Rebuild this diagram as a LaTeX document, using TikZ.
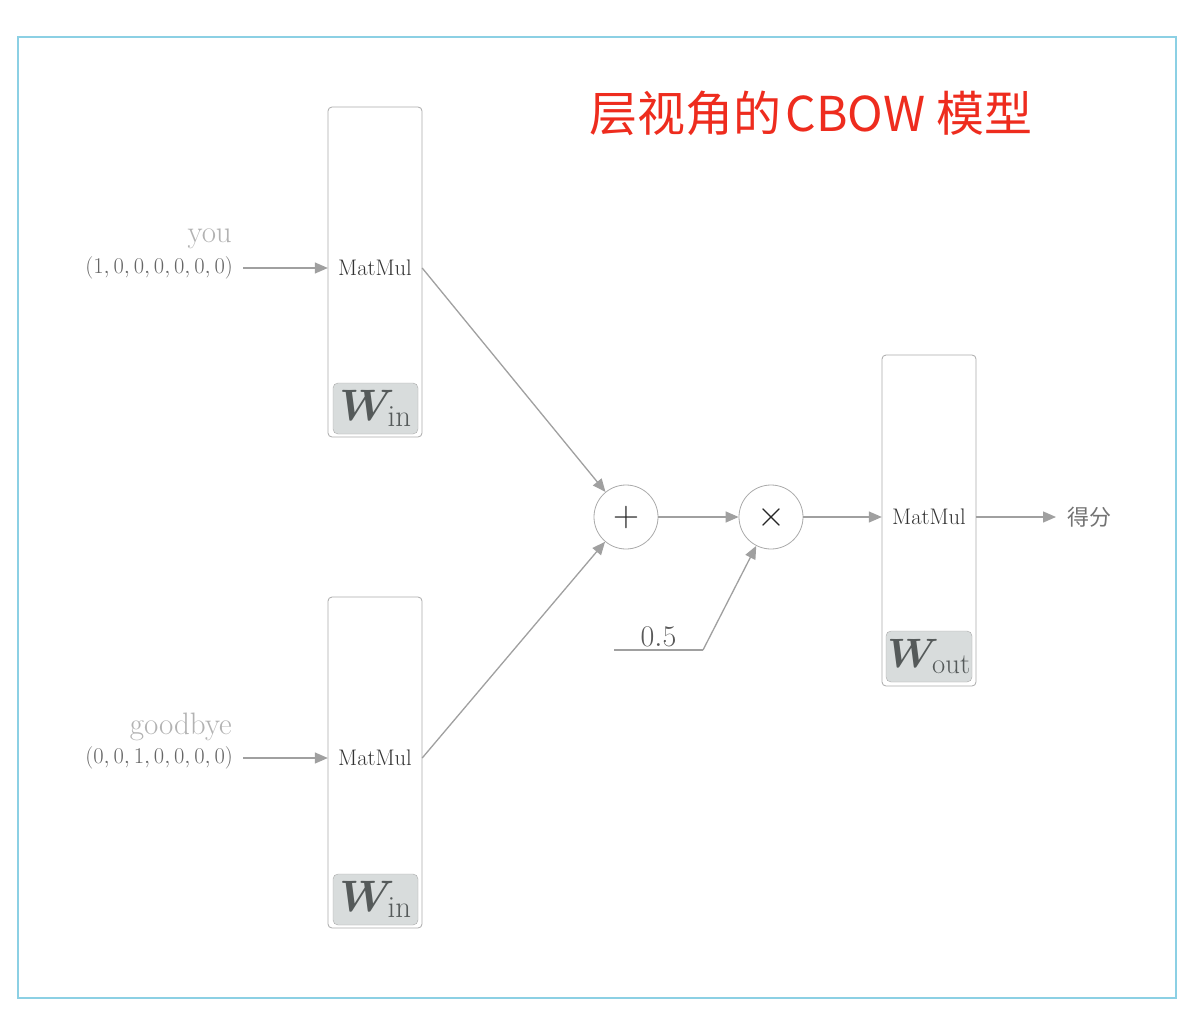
\RequirePackage{fix-cm}
\documentclass[tikz,border=0pt]{standalone}
\usepackage{amsmath,amssymb,bm}
\usepackage{fontspec}
\newfontfamily\cjk{Noto Sans CJK SC}
\usetikzlibrary{arrows.meta,calc,positioning}
\definecolor{framecol}{RGB}{140,208,228}
\definecolor{edgecol}{RGB}{170,170,170}
\definecolor{arrcol}{RGB}{160,160,160}
\definecolor{wfill}{RGB}{216,220,220}
\definecolor{wtext}{RGB}{85,90,90}
\definecolor{titlered}{RGB}{238,44,30}
\tikzset{
  layerbox/.style={draw=edgecol,line width=0.8pt,rounded corners=4pt,minimum width=94pt,inner sep=0pt},
  wbox/.style={draw=edgecol,fill=wfill,rounded corners=5pt,minimum width=85pt,minimum height=51pt,inner sep=0pt,text=wtext,font=\fontsize{44}{46}\selectfont},
  optext/.style={minimum width=94pt,inner sep=0pt,text=black!80,font=\fontsize{22.5}{26}\selectfont},
  opcirc/.style={circle,draw=edgecol,line width=0.8pt,minimum size=64pt,inner sep=0pt,font=\fontsize{36}{38}\selectfont,text=black!85},
  flow/.style={draw=arrcol,line width=1.3pt,-{Triangle[length=13pt,width=11pt]}},
  wordlbl/.style={anchor=east,inner sep=0pt,text=black!30,font=\fontsize{31}{33}\selectfont},
  veclbl/.style={anchor=east,inner sep=0pt,text=black!60,font=\fontsize{22.5}{26}\selectfont},
}
\begin{document}
\begin{tikzpicture}[x=1pt,y=-1pt]
\useasboundingbox[fill=white] (0,0) rectangle (1188,1014);
\draw[framecol,line width=2pt] (18,37) rectangle (1176,998);
\node[text=titlered,font=\cjk\fontsize{48}{50}\selectfont] (title) at (811,113) {层视角的\hspace{4pt}CBOW 模型};
% the three MatMul layers
\node[layerbox,minimum height=330pt] (box1) at (375,272) {};
\node[layerbox,minimum height=331pt] (box2) at (375,762.5) {};
\node[layerbox,minimum height=331pt] (box3) at (929,520.5) {};
\node[optext] (mm1) at (375,268) {MatMul};
\node[optext] (mm2) at (375,758) {MatMul};
\node[optext] (mm3) at (929,517) {MatMul};
\node[wbox] (w1) at (375.5,408.5) {$\boldsymbol{W}_{\mathrm{in}}$};
\node[wbox] (w2) at (375.5,899.5) {$\boldsymbol{W}_{\mathrm{in}}$};
\node[wbox,minimum width=86pt,font=\fontsize{41}{43}\selectfont] (w3) at (929,656.5) {$\boldsymbol{W}_{\mathrm{out}}$};
% inputs
\node[wordlbl] (you) at (232,239) {you};
\node[veclbl] (vec1) at (233,268) {$(1,0,0,0,0,0,0)$};
\node[wordlbl] (bye) at (232,727) {goodbye};
\node[veclbl] (vec2) at (233,758) {$(0,0,1,0,0,0,0)$};
% sum and scale
\node[opcirc] (plus) at (626,517) {$+$};
\node[opcirc] (times) at (771,517) {$\times$};
\coordinate (h0) at (614,650);
\coordinate (h1) at (703,650);
\node[above=3pt,inner sep=0pt,text=black!65,font=\fontsize{30}{32}\selectfont] (half) at ($(h0)!0.5!(h1)$) {$0.5$};
\node[anchor=west,inner sep=0pt,text=black!55,font=\cjk\fontsize{22}{25}\selectfont] (score) at (1067,517) {得分};
% connectors
\draw[flow,shorten <=10pt] (vec1.east) -- (mm1.west);
\draw[flow,shorten <=10pt] (vec2.east) -- (mm2.west);
\draw[flow] (mm1.east) -- (plus);
\draw[flow] (mm2.east) -- (plus);
\draw[flow] (plus) -- (times);
\draw[flow,-] (h0) -- (h1);
\draw[flow] (h1) -- (times);
\draw[flow] (times) -- (mm3.west);
\draw[flow,shorten >=11pt] (mm3.east) -- (mm3.east -| score.west);
\end{tikzpicture}
\end{document}
